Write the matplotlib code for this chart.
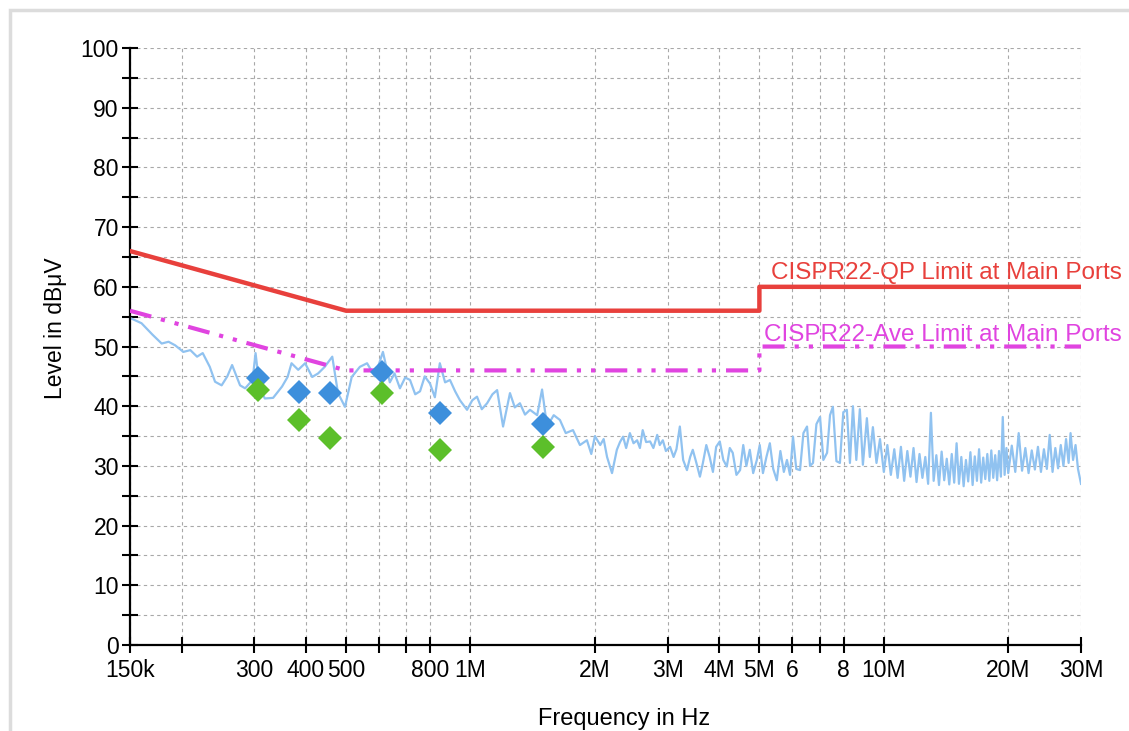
import matplotlib
matplotlib.use("Agg")
import matplotlib.pyplot as plt
from matplotlib.ticker import FixedLocator, NullLocator, MultipleLocator
from matplotlib.patches import Rectangle

plt.rcParams['font.family'] = ['Liberation Sans', 'DejaVu Sans']

# measured spectrum, frequency in MHz / level in dBuV
trace_mhz = [
    0.150, 0.160, 0.170, 0.179, 0.186, 0.193, 0.202, 0.210, 0.218, 0.225, 0.234, 0.241,
    0.250, 0.258, 0.265, 0.271, 0.277, 0.285, 0.297, 0.302, 0.309, 0.318, 0.333, 0.350,
    0.361, 0.369, 0.383, 0.398, 0.414, 0.428, 0.444, 0.463, 0.478, 0.497, 0.516, 0.540,
    0.562, 0.587, 0.614, 0.638, 0.655, 0.675, 0.695, 0.714, 0.735, 0.755, 0.775, 0.798,
    0.820, 0.843, 0.868, 0.892, 0.918, 0.943, 0.981, 1.010, 1.037, 1.065, 1.097, 1.130,
    1.160, 1.199, 1.246, 1.280, 1.317, 1.355, 1.393, 1.450, 1.490, 1.532, 1.590, 1.646,
    1.700, 1.770, 1.840, 1.913, 1.960, 2.00, 2.06, 2.10, 2.14, 2.20, 2.26, 2.30, 2.34,
    2.38, 2.43, 2.48, 2.53, 2.57, 2.61, 2.66, 2.72, 2.77, 2.83, 2.87, 2.92, 2.97, 3.04,
    3.10, 3.15, 3.21, 3.27, 3.34, 3.40, 3.45, 3.52, 3.59, 3.65, 3.72, 3.79, 3.86, 3.93,
    4.01, 4.09, 4.17, 4.24, 4.31, 4.40, 4.49, 4.57, 4.65, 4.74, 4.83, 4.93, 5.01, 5.10,
    5.20, 5.30, 5.40, 5.51, 5.62, 5.73, 5.83, 5.93, 6.03, 6.14, 6.27, 6.39, 6.52, 6.63,
    6.74, 6.87, 7.01, 7.14, 7.29, 7.41, 7.53, 7.68, 7.83, 7.98, 8.14, 8.28, 8.42, 8.58,
    8.75, 8.90, 9.10, 9.25, 9.41, 9.60, 9.79, 10.0, 10.2, 10.4, 10.6, 10.8, 11.0, 11.2,
    11.4, 11.6, 11.8, 12.0, 12.2, 12.4, 12.6, 12.8, 13.0, 13.2, 13.4, 13.6, 13.8, 14.0,
    14.2, 14.4, 14.6, 14.8, 15.0, 15.2, 15.4, 15.6, 15.8, 16.0, 16.2, 16.4, 16.6, 16.8,
    17.0, 17.2, 17.4, 17.6, 17.8, 18.0, 18.2, 18.4, 18.6, 18.8, 19.0, 19.2, 19.4, 19.6,
    19.8, 20.0, 20.4, 20.8, 21.2, 21.6, 22.0, 22.4, 22.8, 23.2, 23.6, 24.0, 24.4, 24.8,
    25.2, 25.6, 26.0, 26.4, 26.8, 27.2, 27.6, 28.0, 28.3, 28.7, 29.1, 29.5, 29.8, 30.0,
]
trace_db = [
    54.8, 53.9, 52.0, 50.5, 50.8, 50.2, 49.1, 49.4, 48.3, 48.9, 46.6, 44.1,
    43.5, 45.0, 46.9, 45.2, 43.5, 43.0, 44.4, 48.9, 43.0, 41.3, 41.4, 43.3,
    44.9, 47.2, 46.1, 47.2, 44.9, 45.5, 46.6, 48.3, 42.2, 39.9, 44.9, 46.6,
    47.2, 45.0, 49.1, 44.0, 45.5, 43.0, 44.8, 44.4, 42.0, 42.5, 45.0, 43.8,
    41.5, 47.2, 44.0, 44.4, 42.5, 41.0, 39.4, 41.0, 41.6, 39.5, 40.5, 42.0,
    42.7, 36.6, 42.2, 39.8, 40.5, 38.6, 39.4, 38.5, 42.8, 36.6, 38.5, 37.7,
    35.5, 36.0, 33.5, 34.3, 32.0, 35.0, 33.5, 34.5, 31.5, 28.8, 32.7, 34.0, 34.9,
    33.0, 35.5, 33.8, 34.3, 33.0, 36.0, 34.0, 34.1, 33.0, 35.2, 33.5, 34.3, 32.5, 33.2,
    31.5, 32.8, 36.6, 31.0, 29.3, 31.5, 32.7, 30.5, 28.2, 30.5, 33.5, 31.5, 29.0, 33.2,
    34.1, 31.0, 29.9, 33.0, 32.2, 28.5, 29.3, 33.5, 30.0, 32.7, 28.8, 31.0, 33.5, 28.8,
    31.5, 33.8, 29.5, 27.6, 32.5, 29.0, 31.0, 28.5, 34.9, 29.5, 29.3, 35.5, 36.6, 30.0,
    30.5, 37.0, 38.2, 31.0, 32.2, 38.5, 39.9, 30.8, 30.5, 39.0, 39.4, 30.5, 40.0, 31.0,
    39.5, 30.2, 38.0, 31.5, 36.5, 30.5, 34.5, 29.0, 33.5, 28.5, 32.8, 28.0, 33.2, 27.5,
    32.5, 28.2, 33.0, 27.3, 32.0, 28.0, 31.5, 27.0, 38.9, 27.5, 31.8, 26.8, 32.4, 27.6,
    31.2, 26.9, 32.0, 27.2, 33.8, 27.0, 31.5, 26.6, 31.0, 27.4, 32.3, 26.8, 31.6, 27.5,
    32.8, 27.2, 31.4, 27.8, 32.0, 27.5, 32.6, 28.0, 31.8, 27.6, 32.5, 28.2, 38.2, 28.5,
    33.0, 28.8, 33.4, 29.0, 35.5, 29.2, 33.0, 28.8, 32.6, 29.4, 33.2, 29.0, 32.8, 29.5,
    35.2, 29.0, 33.0, 29.6, 33.5, 30.0, 34.5, 30.5, 35.5, 31.0, 33.5, 29.5, 28.0, 27.0,
]

# final measurement points
peak_mhz = [0.306, 0.385, 0.457, 0.611, 0.843, 1.50]
peak_qp = [44.7, 42.4, 42.2, 45.8, 38.8, 37.1]
peak_avg = [42.8, 37.7, 34.6, 42.3, 32.6, 33.2]

# limits
qp_mhz = [0.15, 0.5, 5, 5, 30]
qp_db = [66, 56, 56, 60, 60]
ave_mhz = [0.15, 0.5, 5, 5, 30]
ave_db = [56, 46, 46, 50, 50]

xticks_hz = [150e3, 200e3, 300e3, 400e3, 500e3, 600e3, 700e3, 800e3, 1e6,
             2e6, 3e6, 4e6, 5e6, 6e6, 7e6, 8e6, 10e6, 20e6, 30e6]
xtick_labels = ['150k', '', '300', '400', '500', '', '', '800', '1M',
                '2M', '3M', '4M', '5M', '6', '', '8', '10M', '20M', '30M']


def hz(values):
    return [v * 1e6 for v in values]


fig = plt.figure(figsize=(11.29, 7.31), dpi=100)
fig.patches.append(Rectangle((0.009, -0.01), 1.0, 0.997, transform=fig.transFigure,
                             fill=False, edgecolor='#dcdcdc', lw=2.5))
ax = fig.add_axes([0.1151, 0.1176, 0.8424, 0.8167])

ax.plot(hz(trace_mhz), trace_db, color='#90c2f0', lw=1.6, zorder=2)
ax.plot(hz(qp_mhz), qp_db, color='#e8403c', lw=3.2, zorder=3)
ax.plot(hz(ave_mhz), ave_db, color='#e044e0', lw=3.0, zorder=3,
        linestyle=(0, (5.3, 2.4, 1, 2.4, 1, 2.4)))
ax.plot(hz(peak_mhz), peak_qp, 'D', color='#3d8fdc', ms=12.5, mew=0, zorder=5)
ax.plot(hz(peak_mhz), peak_avg, 'D', color='#5cbf2a', ms=12.5, mew=0, zorder=5)

ax.annotate('CISPR22-QP Limit at Main Ports', xy=(30e6, 60), xytext=(41, 3),
            textcoords='offset pixels', ha='right', va='bottom',
            color='#e8403c', fontsize=17.5, annotation_clip=False)
ax.annotate('CISPR22-Ave Limit at Main Ports', xy=(30e6, 50), xytext=(41, 1),
            textcoords='offset pixels', ha='right', va='bottom',
            color='#e044e0', fontsize=17.5, annotation_clip=False)

ax.set_xscale('log')
ax.set_xlim(150e3, 30e6)
ax.set_ylim(0, 100)
ax.xaxis.set_major_locator(FixedLocator(xticks_hz))
ax.xaxis.set_minor_locator(NullLocator())
ax.set_xticklabels(xtick_labels)
ax.yaxis.set_major_locator(MultipleLocator(10))
ax.yaxis.set_minor_locator(MultipleLocator(5))

for side in ['top', 'right']:
    ax.spines[side].set_visible(False)
for side in ['left', 'bottom']:
    ax.spines[side].set_linewidth(1.6)

ax.tick_params(which='both', direction='inout', length=12, width=1.5,
               labelsize=16.5, colors='black')
ax.tick_params(axis='x', pad=4)
ax.tick_params(axis='y', pad=2)
ax.grid(True, which='both', linestyle=(0, (3, 3)), color='#a8a8a8', lw=0.8)

ax.set_xlabel('Frequency in Hz', fontsize=17)
ax.xaxis.set_label_coords(0.52, -0.105)
ax.set_ylabel('Level in dBμV', fontsize=16.5)
ax.yaxis.set_label_coords(-0.066, 0.53)

fig.savefig('out.png', dpi=100)
